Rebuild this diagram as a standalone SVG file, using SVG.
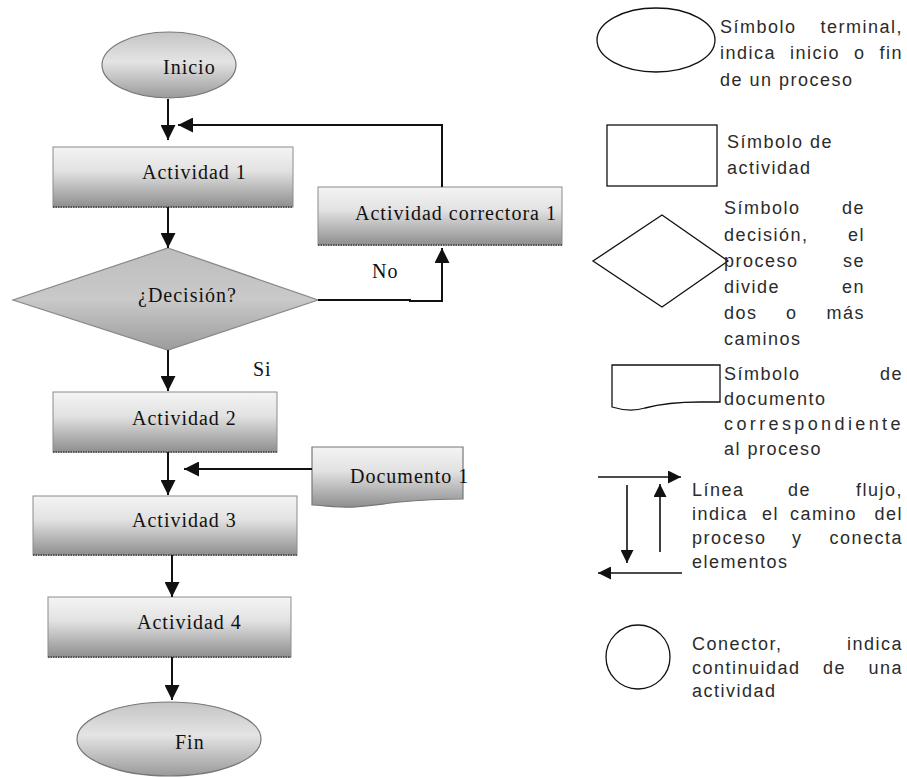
<svg xmlns="http://www.w3.org/2000/svg" width="907" height="778" viewBox="0 0 907 778">
  <style>
    .box { stroke: #8c8c8c; stroke-width: 1; }
    .edge { stroke: #555; stroke-width: 2; stroke-dasharray: 1.5 1; fill: none; }
    .lbl { font-family: "Liberation Serif", "Times New Roman", serif; font-size: 20px; letter-spacing: 1px; fill: #111; }
    .flow { stroke: #111; stroke-width: 2; fill: none; marker-end: url(#head); }
    .leg { font-family: "Liberation Sans", Arial, sans-serif; font-size: 18px; letter-spacing: 1.5px; fill: #2b2b2b; }
    .sym { fill: #fff; stroke: #111; stroke-width: 1.3; }
    .lflow { stroke: #111; stroke-width: 1.6; fill: none; marker-end: url(#headS); }
  </style>
  <defs>
    <linearGradient id="gBox" x1="0" y1="0" x2="0" y2="1">
      <stop offset="0" stop-color="#f4f4f4"/>
      <stop offset="0.4" stop-color="#e2e2e2"/>
      <stop offset="1" stop-color="#8e8e8e"/>
    </linearGradient>
    <linearGradient id="gOval" x1="0" y1="0" x2="0" y2="1">
      <stop offset="0" stop-color="#c4c4c4"/>
      <stop offset="0.45" stop-color="#e4e4e4"/>
      <stop offset="1" stop-color="#9a9a9a"/>
    </linearGradient>
    <linearGradient id="gDia" x1="0" y1="0" x2="0" y2="1">
      <stop offset="0" stop-color="#bdbdbd"/>
      <stop offset="0.5" stop-color="#c9c9c9"/>
      <stop offset="1" stop-color="#9c9c9c"/>
    </linearGradient>
    <marker id="head" viewBox="0 0 14 14" markerWidth="15" markerHeight="15" refX="14" refY="7" orient="auto" markerUnits="userSpaceOnUse">
      <path d="M0,0 L14,7 L0,14 Z" fill="#111"/>
    </marker>
    <marker id="headS" viewBox="0 0 14 14" markerWidth="13" markerHeight="13" refX="14" refY="7" orient="auto" markerUnits="userSpaceOnUse">
      <path d="M0,0 L14,7 L0,14 Z" fill="#111"/>
    </marker>
  </defs>

  <rect width="907" height="778" fill="#fff"/>

  <!-- flowchart nodes -->
  <g id="inicio">
    <ellipse cx="169" cy="65" rx="67" ry="33" fill="url(#gOval)" stroke="#777" stroke-width="1.2"/>
    <text class="lbl" x="163" y="74">Inicio</text>
  </g>
  <g id="actividad-1">
    <rect class="box" x="53" y="147" width="240" height="60" fill="url(#gBox)"/>
    <line class="edge" x1="53" y1="207" x2="293" y2="207"/>
    <text class="lbl" x="142" y="179">Actividad 1</text>
  </g>
  <g id="actividad-correctora-1">
    <rect class="box" x="318" y="187" width="244" height="58" fill="url(#gBox)"/>
    <line class="edge" x1="318" y1="245" x2="562" y2="245"/>
    <text class="lbl" x="355" y="220">Actividad correctora 1</text>
  </g>
  <g id="decision">
    <polygon points="168,248 318,300 168,350 13,300" fill="url(#gDia)" stroke="#888" stroke-width="1.2"/>
    <text class="lbl" x="138" y="302">¿Decisión?</text>
  </g>
  <g id="actividad-2">
    <rect class="box" x="53" y="392" width="224" height="60" fill="url(#gBox)"/>
    <line class="edge" x1="53" y1="452" x2="277" y2="452"/>
    <text class="lbl" x="132" y="425">Actividad 2</text>
  </g>
  <g id="documento-1">
    <path d="M312,447 H463 V499 C440,499 420,500 400,502 C380,504 360,508 340,507 C325,506 318,505 312,505 Z" fill="url(#gBox)" stroke="#777" stroke-width="1.2"/>
    <text class="lbl" x="350" y="483">Documento 1</text>
  </g>
  <g id="actividad-3">
    <rect class="box" x="33" y="496" width="264" height="59" fill="url(#gBox)"/>
    <line class="edge" x1="33" y1="555" x2="297" y2="555"/>
    <text class="lbl" x="132" y="527">Actividad 3</text>
  </g>
  <g id="actividad-4">
    <rect class="box" x="48" y="597" width="243" height="60" fill="url(#gBox)"/>
    <line class="edge" x1="48" y1="657" x2="291" y2="657"/>
    <text class="lbl" x="137" y="629">Actividad 4</text>
  </g>
  <g id="fin">
    <ellipse cx="169" cy="739" rx="92" ry="37" fill="url(#gOval)" stroke="#777" stroke-width="1.2"/>
    <text class="lbl" x="175" y="749">Fin</text>
  </g>

  <!-- flowchart connectors -->
  <g id="connectors">
    <line class="flow" x1="168" y1="99" x2="168" y2="140"/>
    <polyline class="flow" points="442,187 442,125 178,125"/>
    <line class="flow" x1="168" y1="207" x2="168" y2="248"/>
    <polyline class="flow" points="318,300 410,300 410,301 442,301 442,248"/>
    <line class="flow" x1="168" y1="350" x2="168" y2="391"/>
    <line class="flow" x1="168" y1="452" x2="168" y2="495"/>
    <line class="flow" x1="312" y1="469" x2="184" y2="469"/>
    <line class="flow" x1="172" y1="555" x2="172" y2="597"/>
    <line class="flow" x1="172" y1="657" x2="172" y2="700"/>
    <text class="lbl" x="372" y="278">No</text>
    <text class="lbl" x="253" y="376">Si</text>
  </g>

  <!-- legend: symbols and their descriptions -->
  <g id="legend-terminal">
    <ellipse class="sym" cx="656" cy="40" rx="59" ry="32"/>
    <text class="leg" y="33"><tspan x="720">Símbolo</tspan><tspan x="903" text-anchor="end">terminal,</tspan></text>
    <text class="leg" y="59"><tspan x="720">indica</tspan><tspan x="790">inicio</tspan><tspan x="854">o</tspan><tspan x="903" text-anchor="end">fin</tspan></text>
    <text class="leg" x="720" y="86">de un proceso</text>
  </g>
  <g id="legend-actividad">
    <rect class="sym" x="607" y="125" width="110" height="61" stroke-width="1.6"/>
    <text class="leg" x="727" y="148">Símbolo de</text>
    <text class="leg" x="727" y="174">actividad</text>
  </g>
  <g id="legend-decision">
    <polygon class="sym" points="662,215 728,261 662,307 593,261"/>
    <text class="leg" y="214"><tspan x="724">Símbolo</tspan><tspan x="865" text-anchor="end">de</tspan></text>
    <text class="leg" y="241"><tspan x="724">decisión,</tspan><tspan x="865" text-anchor="end">el</tspan></text>
    <text class="leg" y="267"><tspan x="724">proceso</tspan><tspan x="865" text-anchor="end">se</tspan></text>
    <text class="leg" y="293"><tspan x="724">divide</tspan><tspan x="865" text-anchor="end">en</tspan></text>
    <text class="leg" y="319"><tspan x="724">dos</tspan><tspan x="786">o</tspan><tspan x="865" text-anchor="end">más</tspan></text>
    <text class="leg" x="724" y="345">caminos</text>
  </g>
  <g id="legend-documento">
    <path class="sym" d="M612,365 H720 V402 L700,402 C680,402 660,404 645,408 C635,411 625,411 612,407 Z"/>
    <text class="leg" y="380"><tspan x="724">Símbolo</tspan><tspan x="903" text-anchor="end">de</tspan></text>
    <text class="leg" x="724" y="405">documento</text>
    <text class="leg" x="724" y="430" textLength="178" lengthAdjust="spacing">correspondiente</text>
    <text class="leg" x="724" y="455">al proceso</text>
  </g>
  <g id="legend-flujo">
    <line class="lflow" x1="598" y1="477" x2="681" y2="477"/>
    <line class="lflow" x1="627" y1="485" x2="627" y2="563"/>
    <line class="lflow" x1="660" y1="552" x2="660" y2="484"/>
    <line class="lflow" x1="682" y1="573" x2="598" y2="573"/>
    <text class="leg" y="496"><tspan x="692">Línea</tspan><tspan x="788">de</tspan><tspan x="903" text-anchor="end">flujo,</tspan></text>
    <text class="leg" y="520"><tspan x="692">indica</tspan><tspan x="762">el</tspan><tspan x="790">camino</tspan><tspan x="903" text-anchor="end">del</tspan></text>
    <text class="leg" y="544"><tspan x="692">proceso</tspan><tspan x="792">y</tspan><tspan x="903" text-anchor="end">conecta</tspan></text>
    <text class="leg" x="692" y="568">elementos</text>
  </g>
  <g id="legend-conector">
    <circle class="sym" cx="638" cy="657" r="32"/>
    <text class="leg" y="650"><tspan x="692">Conector,</tspan><tspan x="903" text-anchor="end">indica</tspan></text>
    <text class="leg" y="674"><tspan x="692">continuidad</tspan><tspan x="823">de</tspan><tspan x="903" text-anchor="end">una</tspan></text>
    <text class="leg" x="692" y="697">actividad</text>
  </g>
</svg>
